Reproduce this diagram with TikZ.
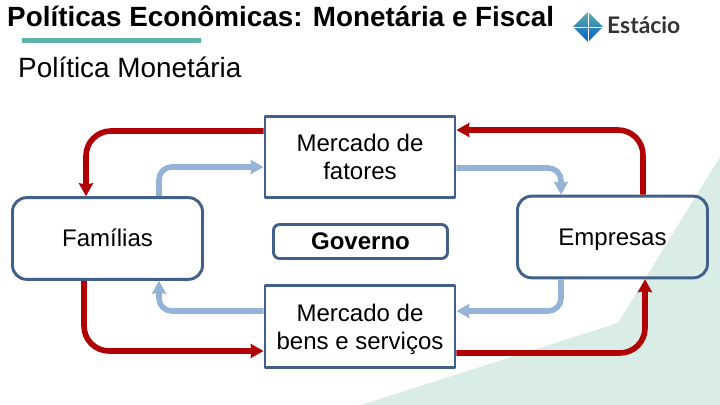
\documentclass[tikz,border=0pt]{standalone}
\usepackage{fontspec}
\usetikzlibrary{arrows.meta}
\setmainfont{Liberation Sans}
\newfontfamily\logofont{Lato}
\definecolor{borda}{HTML}{41608A}
\definecolor{vermelho}{HTML}{B00004}
\definecolor{azul}{HTML}{95B3D7}
\definecolor{verde}{HTML}{D9ECE6}
\definecolor{faixa}{HTML}{5FB0A8}
\begin{document}
\begin{tikzpicture}[line join=round, >={Stealth[length=11pt, width=12pt, inset=1pt]}, x=0.03cm, y=-0.03cm]
	\tikzset{caixa/.style={draw=borda, line width=2.5pt, minimum width=5.7cm, minimum height=2.45cm, align=center, inner sep=0pt, font=\fontsize{20.5}{24}\selectfont},
		caixa dupla/.style={caixa, text depth=-4.5pt},
		caixa redonda/.style={caixa, rounded corners=0.42cm, text height=16pt, text depth=1.5pt},
		fluxo real/.style={->, draw=vermelho, line width=4.8pt, rounded corners=0.75cm},
		fluxo azul/.style={->, draw=azul, line width=4.8pt, rounded corners=0.38cm}}
	\useasboundingbox (0,0) rectangle (720,405);
	\fill[verde] (720,157)--(618,323)--(361,405)--(720,405)--cycle;
	\node[anchor=base west, inner sep=0pt, font=\fontsize{23.75}{28}\selectfont\bfseries] (titulo) at (7,27) {Políticas Econômicas: Monetária e Fiscal};
	\fill[faixa] (22,38) rectangle (201,43);
	\node[anchor=base west, inner sep=0pt, font=\fontsize{23.8}{28}\selectfont] (subtitulo) at (18,77.5) {Política Monetária};
	% logo
	\shade[top color=faixa, bottom color=blue!55!cyan!80!black] (588,12)--(603,27)--(588,42)--(573,27)--cycle;
	\draw[white, line width=0.6pt] (588,12)--(588,42) (573,27)--(603,27);
	\node[anchor=base west, inner sep=0pt, text=black!80, font=\fontsize{19.5}{22}\logofont\bfseries] (marca) at (607,33.5) {Estácio};
	% caixas
	\node[caixa dupla] (fatores) at (360,157) {Mercado de\\fatores};
	\node[caixa dupla] (bens) at (360,326.5) {Mercado de\\bens e serviços};
	\node[caixa, rounded corners=0.18cm, minimum width=5.22cm, minimum height=1.02cm, font=\fontsize{20.5}{24}\selectfont\bfseries] (governo) at (360.5,241.5) {Governo};
	\node[caixa redonda] (familias) at (107.5,238.5) {Famílias};
	\node[caixa redonda] (empresas) at (612.5,237) {Empresas};
	% fluxos
	\draw[fluxo real] (fatores.west |- 0,131) -| (familias.north -| 86,0);
	\draw[fluxo azul] (familias.north -| 159,0) |- (fatores.west |- 0,167);
	\draw[fluxo real] (empresas.north -| 643,0) |- (fatores.east |- 0,130);
	\draw[fluxo azul] (fatores.east |- 0,168) -| (empresas.north -| 561,0);
	\draw[fluxo azul] (empresas.south -| 561,0) |- (bens.east |- 0,311);
	\draw[fluxo real] (bens.east |- 0,353) -| (empresas.south -| 645,0);
	\draw[fluxo real] (familias.south -| 84,0) |- (bens.west |- 0,351);
	\draw[fluxo azul] (bens.west |- 0,311) -| (familias.south -| 159,0);
\end{tikzpicture}
\end{document}
